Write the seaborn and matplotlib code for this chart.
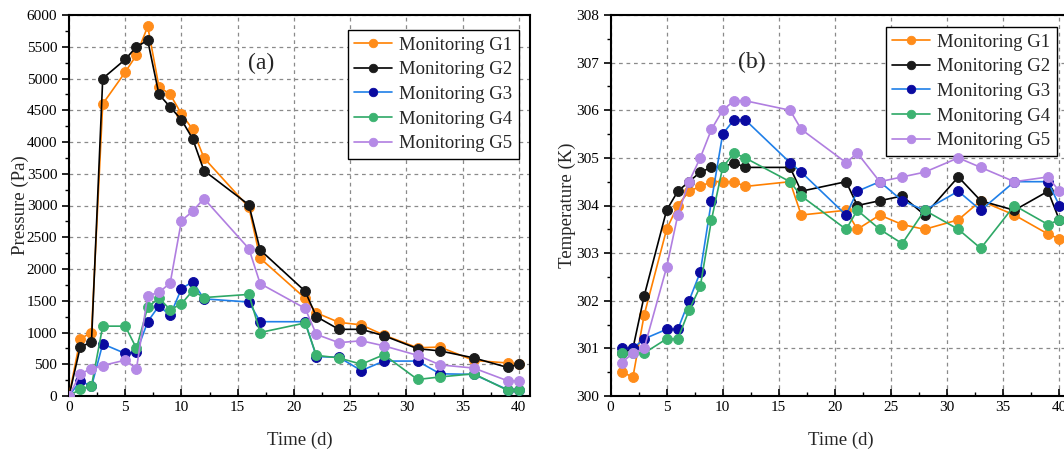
import numpy as np
import pandas as pd
import matplotlib
matplotlib.use("Agg")
import matplotlib.pyplot as plt
import seaborn as sns
from matplotlib.ticker import MultipleLocator

# ---------------- data ----------------
series_names = ["Monitoring G1", "Monitoring G2", "Monitoring G3", "Monitoring G4", "Monitoring G5"]

time_a = [0, 1, 2, 3, 5, 6, 7, 8, 9, 10, 11, 12, 16, 17, 21, 22, 24, 26, 28, 31, 33, 36, 39, 40]
pressure_g1 = [0, 900, 1000, 4600, 5100, 5370, 5820, 4870, 4750, 4440, 4200, 3750, 2970, 2170, 1540, 1310, 1160, 1120, 960, 760, 770, 560, 520, 500]
pressure_g2 = [0, 770, 850, 5000, 5300, 5500, 5600, 4750, 4550, 4350, 4050, 3550, 3010, 2300, 1650, 1250, 1050, 1050, 950, 745, 710, 600, 450, 500]
pressure_g3 = [0, 240, 150, 820, 670, 690, 1170, 1420, 1270, 1690, 1800, 1530, 1480, 1170, 1170, 620, 610, 400, 550, 550, 350, 340, 100, 100]
pressure_g4 = [0, 110, 160, 1100, 1100, 750, 1400, 1540, 1360, 1450, 1660, 1550, 1600, 1000, 1150, 640, 600, 500, 650, 260, 300, 350, 90, 90]
pressure_g5 = [0, 350, 430, 480, 565, 430, 1580, 1630, 1780, 2760, 2910, 3110, 2320, 1770, 1380, 970, 840, 870, 790, 640, 490, 440, 240, 240]

time_b = [1, 2, 3, 5, 6, 7, 8, 9, 10, 11, 12, 16, 17, 21, 22, 24, 26, 28, 31, 33, 36, 39, 40]
temp_g1 = [300.5, 300.4, 301.7, 303.5, 304.0, 304.3, 304.4, 304.5, 304.5, 304.5, 304.4, 304.5, 303.8, 303.9, 303.5, 303.8, 303.6, 303.5, 303.7, 304.1, 303.8, 303.4, 303.3]
temp_g2 = [300.9, 301.0, 302.1, 303.9, 304.3, 304.5, 304.7, 304.8, 304.8, 304.9, 304.8, 304.8, 304.3, 304.5, 304.0, 304.1, 304.2, 303.8, 304.6, 304.1, 303.9, 304.3, 303.7]
temp_g3 = [301.0, 301.0, 301.2, 301.4, 301.4, 302.0, 302.6, 304.1, 305.5, 305.8, 305.8, 304.9, 304.7, 303.8, 304.3, 304.5, 304.1, 303.9, 304.3, 303.9, 304.5, 304.5, 304.0]
temp_g4 = [300.9, 300.9, 300.9, 301.2, 301.2, 301.8, 302.3, 303.7, 304.8, 305.1, 305.0, 304.5, 304.2, 303.5, 303.9, 303.5, 303.2, 303.9, 303.5, 303.1, 304.0, 303.6, 303.7]
temp_g5 = [300.7, 300.9, 301.0, 302.7, 303.8, 304.5, 305.0, 305.6, 306.0, 306.2, 306.2, 306.0, 305.6, 304.9, 305.1, 304.5, 304.6, 304.7, 305.0, 304.8, 304.5, 304.6, 304.3]

x_ticks = [0, 5, 10, 15, 20, 25, 30, 35, 40]
pressure_ticks = [0, 500, 1000, 1500, 2000, 2500, 3000, 3500, 4000, 4500, 5000, 5500, 6000]
temp_ticks = [300, 301, 302, 303, 304, 305, 306, 307, 308]

# ---------------- style ----------------
line_colors = ["#FF8000", "#000000", "#1F7FE8", "#2EA866", "#B07EE0"]
face_colors = ["#FF8C1A", "#1A1A1A", "#0A0AA0", "#3CB371", "#B58AE6"]

sns.set_theme(style="ticks")
plt.rcParams["font.family"] = ["Liberation Serif", "DejaVu Serif"]

fig = plt.figure(figsize=(10.64, 4.55), dpi=100)
W, H = 1064, 455
ax_a = fig.add_axes([69 / W, 59 / H, 461 / W, 381 / H])
ax_b = fig.add_axes([610.5 / W, 59 / H, 460 / W, 381 / H])

df_a = pd.DataFrame({"Time": time_a, "G1": pressure_g1, "G2": pressure_g2,
                     "G3": pressure_g3, "G4": pressure_g4, "G5": pressure_g5})
df_b = pd.DataFrame({"Time": time_b, "G1": temp_g1, "G2": temp_g2,
                     "G3": temp_g3, "G4": temp_g4, "G5": temp_g5})
cols = ["G1", "G2", "G3", "G4", "G5"]


def draw(ax, df):
    for i, c in enumerate(cols):
        sns.lineplot(data=df, x="Time", y=c, ax=ax, color=line_colors[i],
                     marker="o", markersize=7.2, markerfacecolor=face_colors[i],
                     markeredgecolor=face_colors[i], markeredgewidth=0.6,
                     linewidth=1.2, label=series_names[i], zorder=3 + i)


draw(ax_a, df_a)
draw(ax_b, df_b)

for ax in (ax_a, ax_b):
    ax.set_xlim(0, 41)
    ax.set_xticks(x_ticks)
    ax.xaxis.set_minor_locator(MultipleLocator(2.5))
    ax.grid(True, which="major", linestyle=(0, (3, 3)), color="#8a8a8a", linewidth=0.9)
    ax.set_axisbelow(True)
    for s in ax.spines.values():
        s.set_linewidth(1.5)
        s.set_color("black")
    ax.tick_params(axis="x", which="both", direction="in", labelsize=11, colors="black")
    ax.tick_params(axis="y", which="both", direction="out", labelsize=11, colors="black")
    ax.tick_params(which="major", length=5, width=1.2)
    ax.tick_params(which="minor", length=3, width=1.0)
    ax.set_xlabel("Time (d)", fontsize=13.5, labelpad=13)

leg_kw = dict(fontsize=13.5, frameon=True, fancybox=False, edgecolor="black",
              framealpha=1, handlelength=2.0, borderpad=0.35, labelspacing=0.4,
              handletextpad=0.4, markerscale=0.85, borderaxespad=0.0,
              loc="upper right")
leg_a = ax_a.legend(bbox_to_anchor=(1 - 11 / 461, 1 - 15 / 381), **leg_kw)
leg_b = ax_b.legend(bbox_to_anchor=(1 - 13.5 / 460, 1 - 12 / 381), **leg_kw)
for leg in (leg_a, leg_b):
    leg.get_frame().set_linewidth(1.0)

ax_a.set_ylim(0, 6000)
ax_a.set_yticks(pressure_ticks)
ax_a.yaxis.set_minor_locator(MultipleLocator(250))
ax_a.set_ylabel("Pressure (Pa)", fontsize=13.5, labelpad=-2)
ax_a.text(17.1, 5244, "(a)", fontsize=17, ha="center", va="center")

ax_b.set_ylim(300, 308)
ax_b.set_yticks(temp_ticks)
ax_b.yaxis.set_minor_locator(MultipleLocator(0.5))
ax_b.set_ylabel("Temperature (K)", fontsize=13.5, labelpad=0)
ax_b.text(12.6, 307.0, "(b)", fontsize=17, ha="center", va="center")

fig.savefig("out.png", dpi=100)
